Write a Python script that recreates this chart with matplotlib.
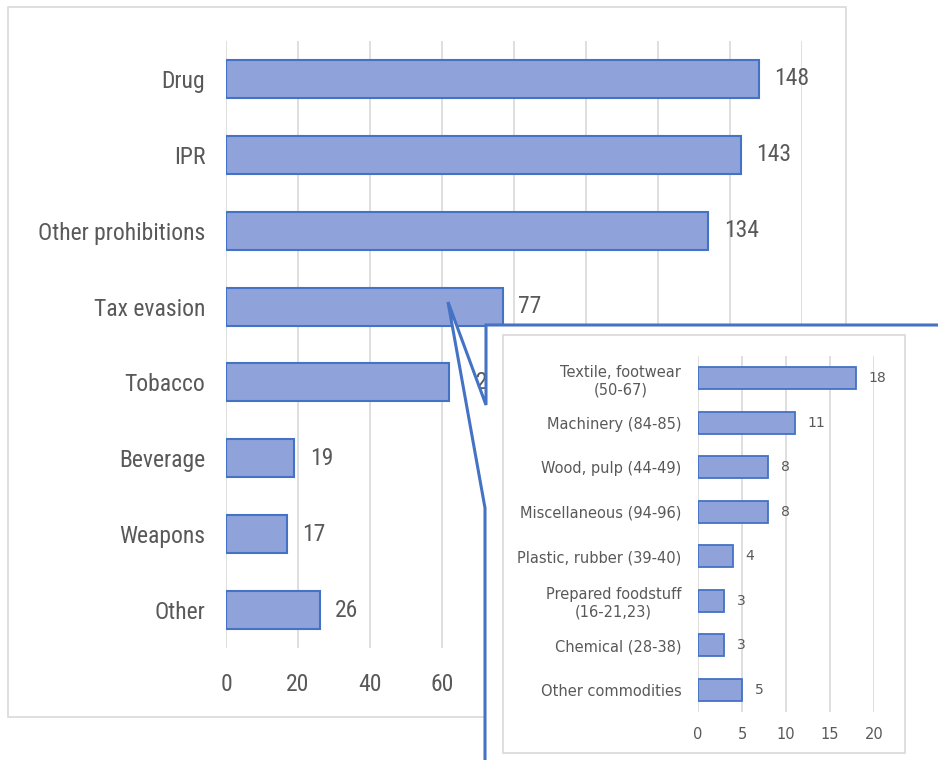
import matplotlib
matplotlib.use("Agg")
import matplotlib.pyplot as plt
from matplotlib import font_manager
from matplotlib.patches import Polygon, Rectangle
from matplotlib.lines import Line2D

# Seizure cases by category (main chart)
categories = ["Drug", "IPR", "Other prohibitions", "Tax evasion",
              "Tobacco", "Beverage", "Weapons", "Other"]
cases = [148, 143, 134, 77, 62, 19, 17, 26]
main_ticks = [0, 20, 40, 60, 80, 100, 120, 140, 160]
main_ticklabels = ["0", "20", "40", "60", "", "", "", "", ""]

# Breakdown of tax evasion cases by commodity (HS chapters)
commodities = ["Textile, footwear\n(50-67)", "Machinery (84-85)",
               "Wood, pulp (44-49)", "Miscellaneous (94-96)",
               "Plastic, rubber (39-40)", "Prepared foodstuff\n(16-21,23)",
               "Chemical (28-38)", "Other commodities"]
commodity_cases = [18, 11, 8, 8, 4, 3, 3, 5]
inset_ticks = [0, 5, 10, 15, 20]

W, H = 938, 760
BAR_FACE = "#8FA2D9"
BAR_EDGE = "#4472C4"
GRID = "#D9D9D9"
TEXT = "#595959"

# narrow face for the main chart labels, with a plain fallback
names = {f.name for f in font_manager.fontManager.ttflist}
main_font, main_size = "DejaVu Sans", 14
for fam, size in [("Liberation Sans Narrow", 18), ("Roboto Condensed", 17),
                  ("Open Sans Condensed", 17)]:
    if fam in names:
        main_font, main_size = fam, size
        break


def fx(px):
    return px / W


def fy(py):
    return 1 - py / H


def box(left, top, right, bottom):
    return [fx(left), fy(bottom), fx(right) - fx(left), fy(top) - fy(bottom)]


def style_axes(ax, ticks, size, family, pad):
    ax.set_xticks(ticks)
    ax.grid(axis="x", color=GRID, lw=1.2, zorder=0)
    ax.set_axisbelow(True)
    for s in ax.spines.values():
        s.set_visible(False)
    ax.tick_params(axis="both", length=0, colors=TEXT, labelsize=size)
    ax.tick_params(axis="x", pad=pad)
    for lab in ax.get_xticklabels() + ax.get_yticklabels():
        lab.set_family(family)


fig = plt.figure(figsize=(W / 100, H / 100), dpi=100)

# outer frame of the main chart
fig.add_artist(Rectangle((fx(8), fy(717)), fx(846) - fx(8), fy(7) - fy(717),
                         transform=fig.transFigure, fill=False,
                         ec="#D9D9D9", lw=1.2))

ax = fig.add_axes(box(226, 41, 802, 648))
ypos = range(len(categories))
ax.barh(ypos, cases, height=0.5, color=BAR_FACE, edgecolor=BAR_EDGE,
        lw=1.5, zorder=3)
ax.set_yticks(list(ypos))
ax.set_yticklabels(categories)
ax.set_ylim(len(categories) - 0.5, -0.5)
ax.set_xlim(0, 160)
ax.set_xticks(main_ticks)
ax.set_xticklabels(main_ticklabels)
style_axes(ax, main_ticks, main_size, main_font, 18)
ax.tick_params(axis="y", pad=15)
for y, v in zip(ypos, cases):
    ax.annotate(str(v), (v, y), xytext=(11, 0), textcoords="offset points",
                va="center", ha="left", color=TEXT, fontsize=main_size,
                family=main_font)

# callout shape: white background with blue outline pointing at the tax evasion bar
outline = [(938, 325), (486, 325), (486, 405), (448, 302), (485, 508), (485, 760)]
fill_pts = outline + [(938, 760)]
fig.add_artist(Polygon([(fx(x), fy(y)) for x, y in fill_pts], closed=True,
                       transform=fig.transFigure, fc="white", ec="none",
                       zorder=5))
fig.add_artist(Line2D([fx(x) for x, _ in outline], [fy(y) for _, y in outline],
                      transform=fig.transFigure, color=BAR_EDGE, lw=2.2,
                      solid_joinstyle="miter", zorder=6))

# inset frame
fig.add_artist(Rectangle((fx(503), fy(753)), fx(905) - fx(503), fy(335) - fy(753),
                         transform=fig.transFigure, fill=False,
                         ec="#D9D9D9", lw=1.2, zorder=7))

ax2 = fig.add_axes(box(698, 356, 874, 712), zorder=8)
ax2.patch.set_alpha(0)
ipos = range(len(commodities))
ax2.barh(ipos, commodity_cases, height=0.5, color=BAR_FACE,
         edgecolor=BAR_EDGE, lw=1.3, zorder=3)
ax2.set_yticks(list(ipos))
ax2.set_yticklabels(commodities, multialignment="center")
ax2.set_ylim(len(commodities) - 0.5, -0.5)
ax2.set_xlim(0, 20)
style_axes(ax2, inset_ticks, 10.5, "DejaVu Sans", 11)
ax2.tick_params(axis="y", pad=12)
for y, v in zip(ipos, commodity_cases):
    ax2.annotate(str(v), (v, y), xytext=(9, 0), textcoords="offset points",
                 va="center", ha="left", color=TEXT, fontsize=10)

fig.savefig("out.png", dpi=100)
